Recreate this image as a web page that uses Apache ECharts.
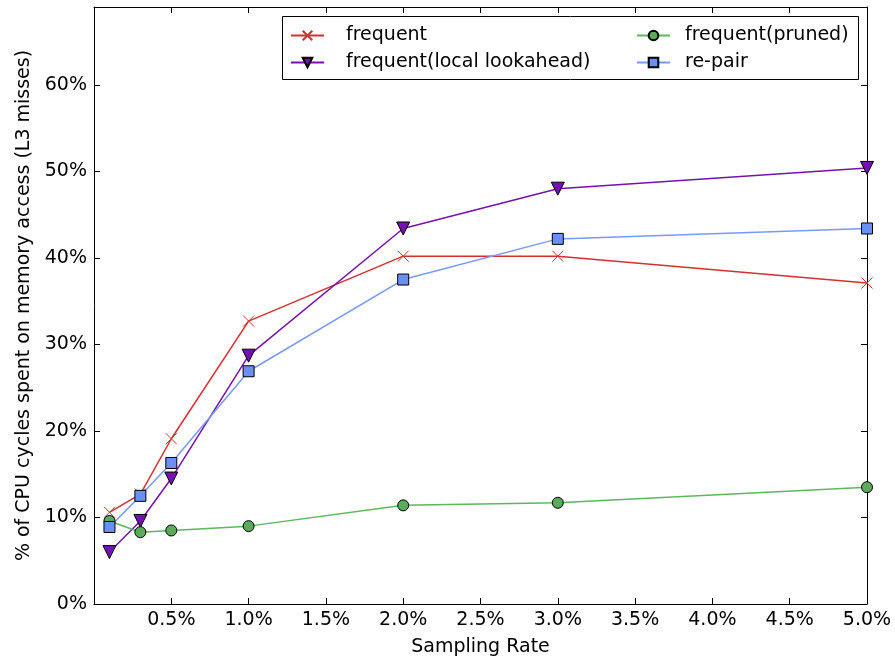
<!DOCTYPE html>
<html>
<head>
<meta charset="utf-8">
<script src="https://cdn.jsdelivr.net/npm/echarts@6/dist/echarts.min.js"></script>
<style>
  html, body { margin: 0; padding: 0; background: #fff; }
  #chart { width: 895px; height: 662px; }
</style>
</head>
<body>
<div id="chart"></div>
<script>
// Sampling rates (%) and measured share of CPU cycles spent on memory access (%)
const samplingRates = [0.1, 0.3, 0.5, 1.0, 2.0, 3.0, 5.0];
const frequent = [10.6, 12.7, 19.1, 32.7, 40.2, 40.2, 37.1];
const frequentLookahead = [6.0, 9.6, 14.5, 28.7, 43.4, 48.0, 50.4];
const frequentPruned = [9.6, 8.3, 8.5, 9.0, 11.4, 11.7, 13.5];
const rePair = [8.9, 12.5, 16.3, 26.9, 37.5, 42.2, 43.4];

const FONT = 'DejaVu Sans';
const FS = 19;

const pairs = vals => samplingRates.map((x, i) => [x, vals[i]]);

const xMarker = 'path://M0,0 L10,10 M10,0 L0,10';

const baseAxis = {
  axisLine: { show: true, onZero: false, lineStyle: { color: '#000', width: 1 } },
  axisTick: { show: true, inside: true, length: 6, lineStyle: { color: '#000', width: 1 } },
  splitLine: { show: false }
};

const legendText = pad => ({ fontFamily: FONT, fontSize: FS, color: '#000', padding: [0, 0, 0, pad] });

const chart = echarts.init(document.getElementById('chart'), null, { renderer: 'canvas' });

chart.setOption({
  animation: false,
  backgroundColor: '#fff',
  grid: { left: 94, right: 28, top: 7, bottom: 57 },
  xAxis: [
    Object.assign({}, baseAxis, {
      type: 'value', position: 'bottom', min: 0, max: 5, interval: 0.5,
      name: 'Sampling Rate', nameLocation: 'middle', nameGap: 34,
      nameTextStyle: { fontFamily: FONT, fontSize: FS, color: '#000' },
      axisLabel: {
        margin: 7, fontFamily: FONT, fontSize: FS, color: '#000',
        formatter: v => (v === 0 ? '' : v.toFixed(1) + '%')
      }
    }),
    Object.assign({}, baseAxis, {
      type: 'value', position: 'top', min: 0, max: 5, interval: 0.5,
      axisLabel: { show: false }
    })
  ],
  yAxis: [
    Object.assign({}, baseAxis, {
      type: 'value', position: 'left', min: 0, max: 69, interval: 10,
      name: '% of CPU cycles spent on memory access (L3 misses)',
      nameLocation: 'middle', nameGap: 60,
      nameTextStyle: { fontFamily: FONT, fontSize: FS, color: '#000' },
      axisLabel: {
        margin: 7, fontFamily: FONT, fontSize: FS, color: '#000',
        formatter: v => (v % 10 === 0 ? v + '%' : '')
      }
    }),
    Object.assign({}, baseAxis, {
      type: 'value', position: 'right', min: 0, max: 69, interval: 10,
      axisLabel: { show: false }
    })
  ],
  graphic: [{
    type: 'rect', z: 10,
    shape: { x: 282.5, y: 16.5, width: 576, height: 63 },
    style: { fill: '#fff', stroke: '#000', lineWidth: 1 }
  }],
  legend: [
    {
      z: 11, orient: 'vertical', left: 285, top: 21, itemGap: 8,
      itemWidth: 33, itemHeight: 12,
      data: ['frequent', 'frequent(local lookahead)'],
      textStyle: legendText(17)
    },
    {
      z: 11, orient: 'vertical', left: 631, top: 21, itemGap: 8,
      itemWidth: 33, itemHeight: 12,
      data: ['frequent(pruned)', 're-pair'],
      textStyle: legendText(10)
    }
  ],
  series: [
    {
      name: 'frequent', type: 'line', data: pairs(frequent),
      symbol: xMarker, symbolSize: 11,
      lineStyle: { color: '#d62f2f', width: 1.5 },
      itemStyle: { color: 'rgba(0,0,0,0)', borderColor: '#d62f2f', borderWidth: 1 }
    },
    {
      name: 'frequent(local lookahead)', type: 'line', data: pairs(frequentLookahead),
      symbol: 'triangle', symbolRotate: 180, symbolSize: 13,
      lineStyle: { color: '#7411b0', width: 1.5 },
      itemStyle: { color: '#7411b0', borderColor: '#000', borderWidth: 1 }
    },
    {
      name: 'frequent(pruned)', type: 'line', data: pairs(frequentPruned),
      symbol: 'circle', symbolSize: 11,
      lineStyle: { color: '#5cb85c', width: 1.5 },
      itemStyle: { color: '#5aab5a', borderColor: '#000', borderWidth: 1 }
    },
    {
      name: 're-pair', type: 'line', data: pairs(rePair),
      symbol: 'rect', symbolSize: 11,
      lineStyle: { color: '#7799ff', width: 1.5 },
      itemStyle: { color: '#6a8ff5', borderColor: '#000', borderWidth: 1 }
    }
  ]
});
</script>
</body>
</html>
